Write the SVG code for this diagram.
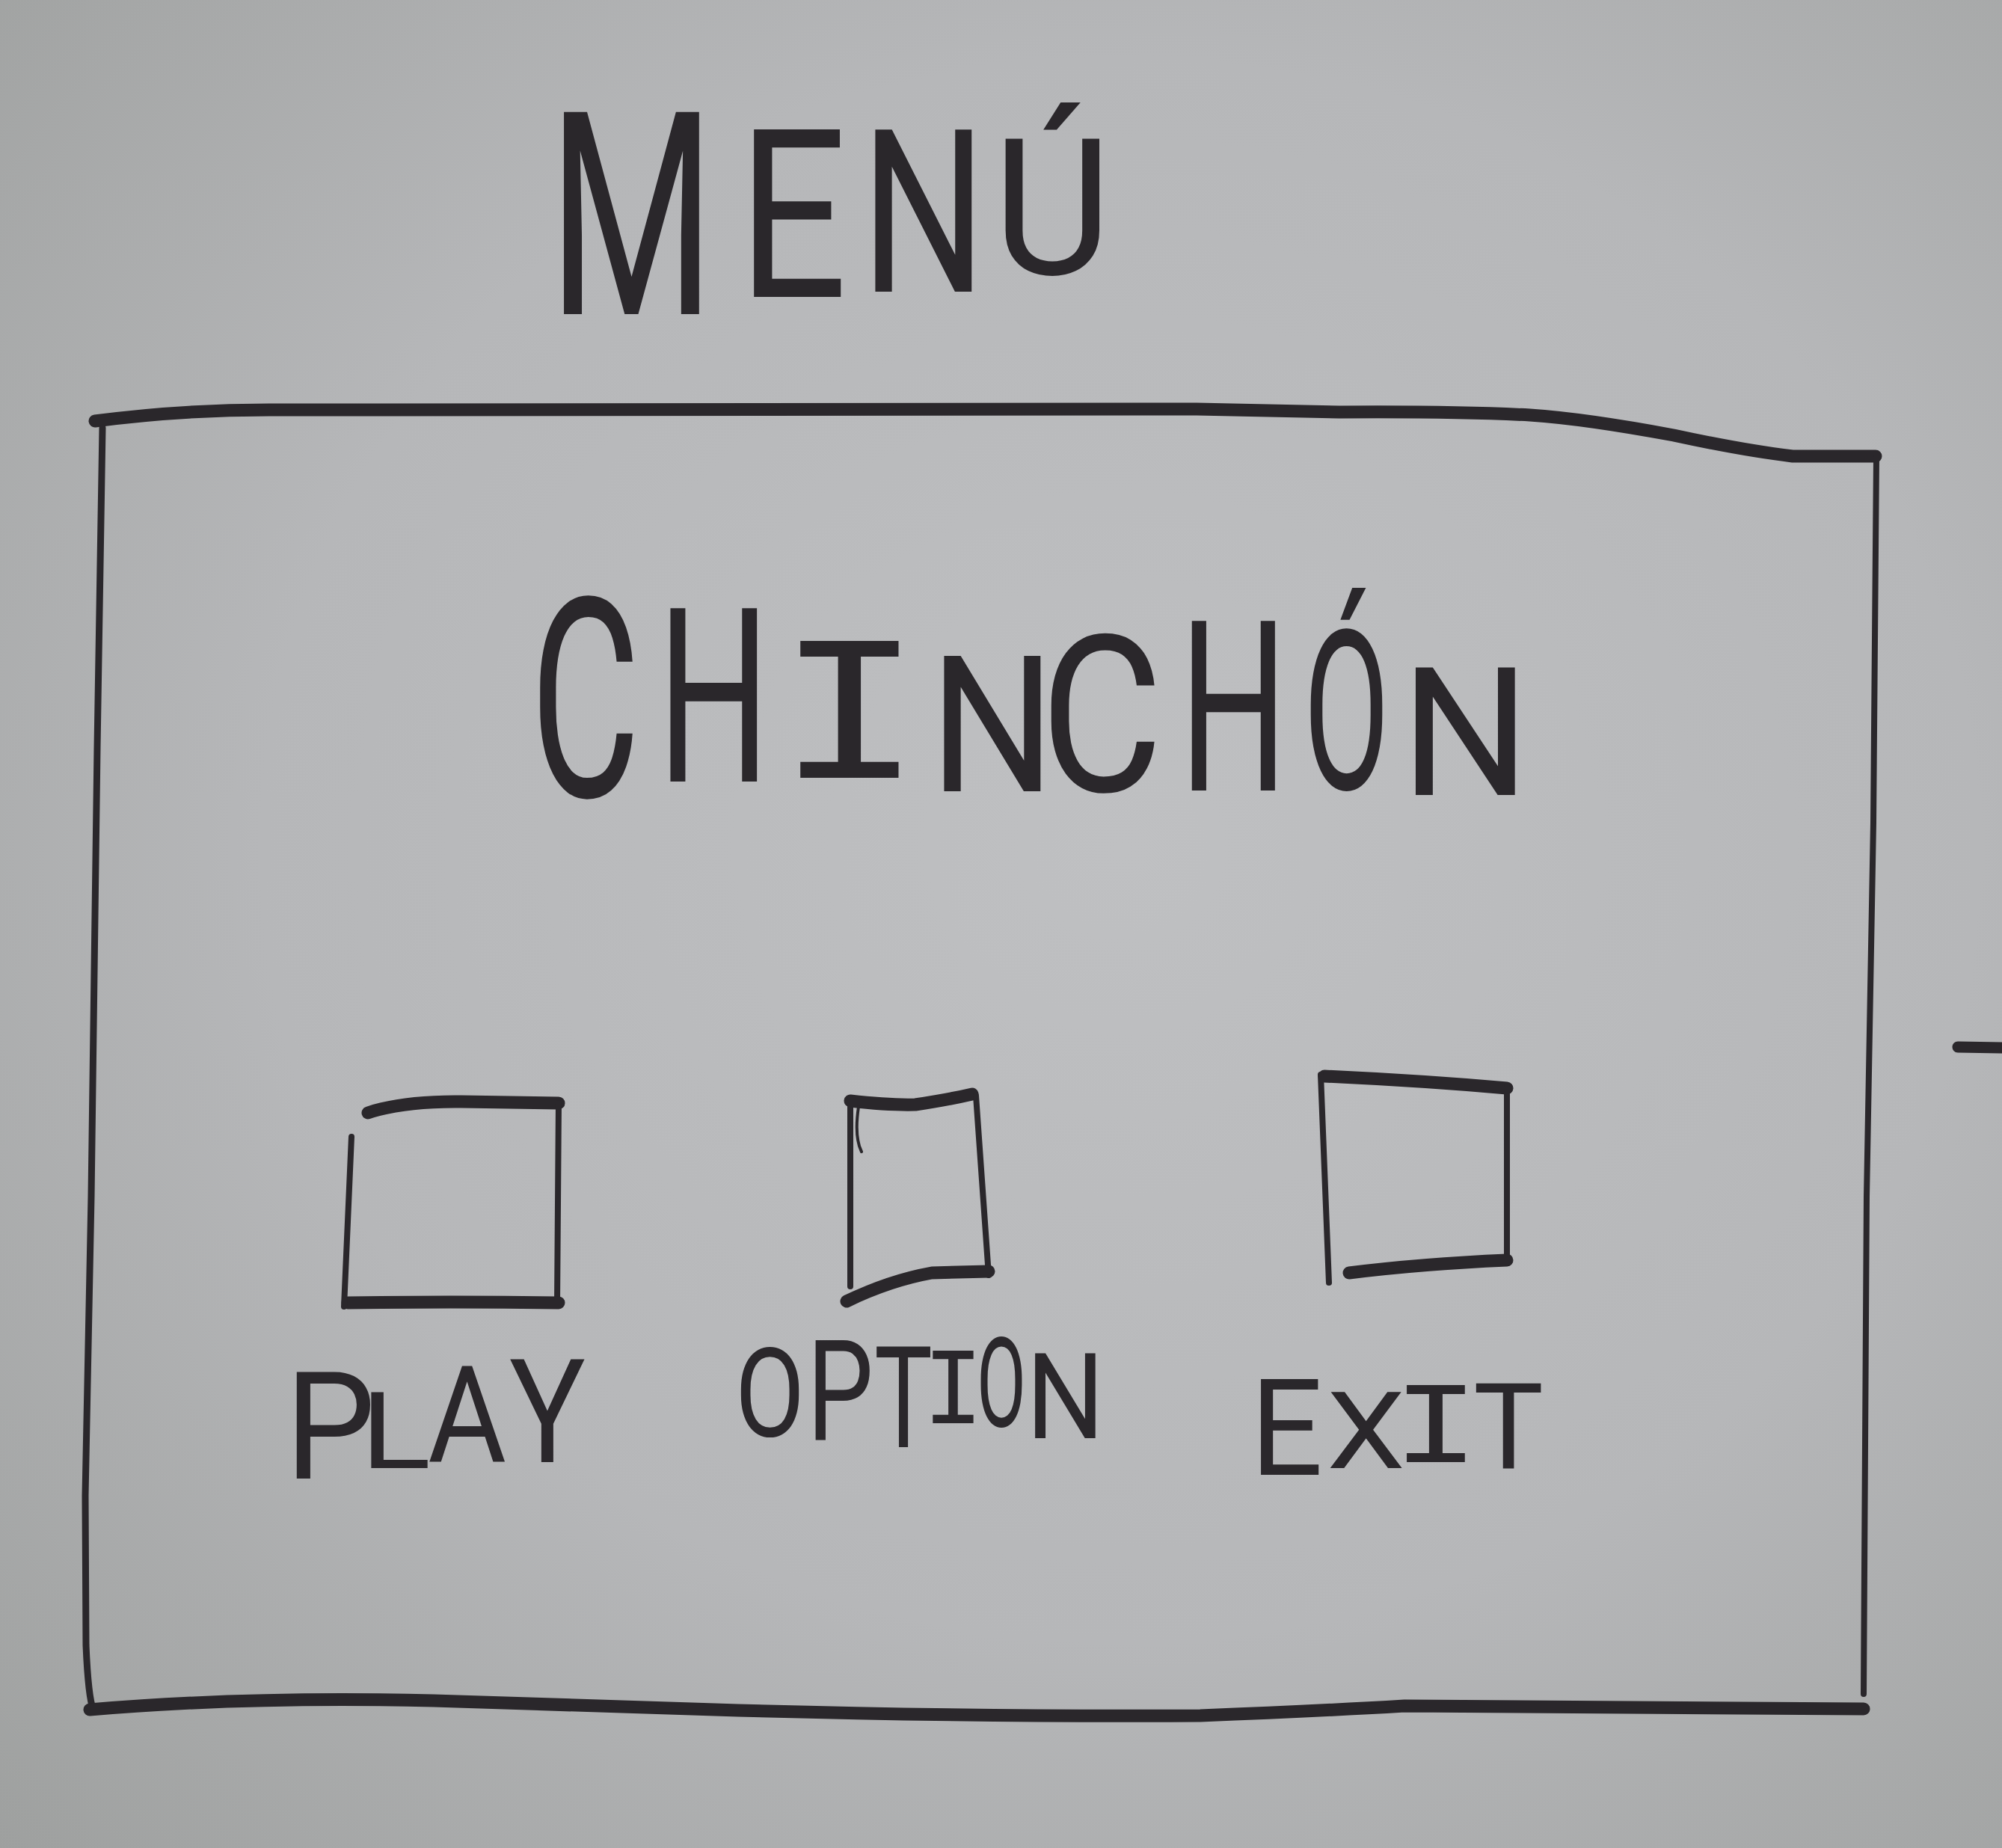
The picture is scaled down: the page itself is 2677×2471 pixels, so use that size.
<svg xmlns="http://www.w3.org/2000/svg" width="2677" height="2471" viewBox="0 0 2677 2471">
  <defs>
    <radialGradient id="paper" cx="0.56" cy="0.46" r="0.78">
      <stop offset="0" stop-color="#bfc0c2"/>
      <stop offset="0.55" stop-color="#b6b7b9"/>
      <stop offset="1" stop-color="#9ea09f"/>
    </radialGradient>
  </defs>
  <style>
    .ink { fill: none; stroke: #2a272b; stroke-linecap: round; stroke-linejoin: round; }
    .h { stroke-width: 17; }
    .v { stroke-width: 8; }
    .t { fill: #2a272b; font-family: Roboto, "Liberation Sans", sans-serif; font-weight: 400; }
    .m { font-family: "Liberation Mono", "DejaVu Sans Mono", monospace; font-weight: normal; }
  </style>
  <rect x="0" y="0" width="2677" height="2471" fill="url(#paper)"/>

  <g id="title-menu">
    <text class="t"><tspan x="733" y="420" font-size="380" textLength="223" lengthAdjust="spacingAndGlyphs">M</tspan><tspan x="987" y="397" font-size="315" textLength="146" lengthAdjust="spacingAndGlyphs">E</tspan><tspan x="1151" y="390" font-size="305" textLength="168" lengthAdjust="spacingAndGlyphs">N</tspan><tspan x="1328" y="367" font-size="255" textLength="158" lengthAdjust="spacingAndGlyphs">Ú</tspan></text>
  </g>

  <g id="screen-frame">
    <path class="ink h" d="M127,563 Q240,548 360,548 L1600,547 L1791,551 Q1950,550 2046,555 Q2120,560 2238,582 Q2330,602 2397,610 L2508,610"/>
    <path class="ink v" d="M2509,612 L2505,1100 L2496,1600 L2492,2265"/>
    <path class="ink v" style="stroke-width:9" d="M137,572 L130,1000 L122,1600 L114,2000 L115,2200 Q118,2270 125,2287"/>
    <path class="ink h" d="M120,2286 Q330,2268 580,2274 Q760,2280 956,2286 Q1300,2296 1605,2294 Q1760,2288 1878,2281 L2492,2285"/>
  </g>

  <g id="title-chinchon">
    <text class="t"><tspan x="709" y="1065" font-size="373" textLength="147" lengthAdjust="spacingAndGlyphs">C</tspan><tspan x="879" y="1045" font-size="326" textLength="151" lengthAdjust="spacingAndGlyphs">H</tspan><tspan class="m" x="1038" y="1040" font-size="278" textLength="196" lengthAdjust="spacingAndGlyphs">I</tspan><tspan x="1243" y="1058" font-size="255" textLength="168" lengthAdjust="spacingAndGlyphs">N</tspan><tspan x="1391" y="1058" font-size="293" textLength="164" lengthAdjust="spacingAndGlyphs">C</tspan><tspan x="1577" y="1057" font-size="319" textLength="145" lengthAdjust="spacingAndGlyphs">H</tspan><tspan x="1743" y="1055" font-size="298" textLength="115" lengthAdjust="spacingAndGlyphs">Ó</tspan><tspan x="1873" y="1063" font-size="239" textLength="173" lengthAdjust="spacingAndGlyphs">N</tspan></text>
  </g>

  <g id="button-play">
    <path class="ink h" d="M492,1488 Q540,1472 617,1473 L747,1475"/>
    <path class="ink v" d="M747,1475 L745,1743"/>
    <path class="ink h" d="M465,1742 Q600,1740 747,1742"/>
    <path class="ink v" d="M470,1520 L460,1747"/>
    <text class="t"><tspan x="381" y="1977" font-size="200" textLength="121" lengthAdjust="spacingAndGlyphs">P</tspan><tspan x="482" y="1963" font-size="143" textLength="94" lengthAdjust="spacingAndGlyphs">L</tspan><tspan x="572" y="1955" font-size="180" textLength="105" lengthAdjust="spacingAndGlyphs">A</tspan><tspan x="681" y="1955" font-size="193" textLength="102" lengthAdjust="spacingAndGlyphs">Y</tspan></text>
  </g>

  <g id="button-option">
    <path class="ink h" d="M1137,1472 Q1190,1478 1224,1477 Q1270,1470 1300,1463"/>
    <path class="ink v" d="M1305,1465 L1322,1705"/>
    <path class="ink h" d="M1132,1740 Q1190,1712 1246,1702 L1322,1700"/>
    <path class="ink v" d="M1137,1470 L1137,1720"/>
    <path class="ink" style="stroke-width:4" d="M1148,1480 Q1142,1520 1152,1540"/>
    <text class="t"><tspan x="983" y="1920" font-size="165" textLength="93" lengthAdjust="spacingAndGlyphs">O</tspan><tspan x="1079" y="1925" font-size="187" textLength="89" lengthAdjust="spacingAndGlyphs">P</tspan><tspan x="1169" y="1935" font-size="190" textLength="78" lengthAdjust="spacingAndGlyphs">T</tspan><tspan class="m" x="1234" y="1903" font-size="146" textLength="81" lengthAdjust="spacingAndGlyphs">I</tspan><tspan x="1306" y="1907" font-size="167" textLength="66" lengthAdjust="spacingAndGlyphs">O</tspan><tspan x="1372" y="1923" font-size="159" textLength="105" lengthAdjust="spacingAndGlyphs">N</tspan></text>
  </g>

  <g id="button-exit">
    <path class="ink h" d="M1771,1439 Q1900,1445 2015,1455"/>
    <path class="ink v" d="M2015,1453 L2015,1687"/>
    <path class="ink h" d="M1804,1702 Q1900,1690 2015,1685"/>
    <path class="ink v" d="M1766,1437 L1777,1715"/>
    <text class="t"><tspan x="1672" y="1972" font-size="180" textLength="97" lengthAdjust="spacingAndGlyphs">E</tspan><tspan x="1774" y="1963" font-size="143" textLength="105" lengthAdjust="spacingAndGlyphs">X</tspan><tspan class="m" x="1862" y="1955" font-size="156" textLength="116" lengthAdjust="spacingAndGlyphs">I</tspan><tspan x="1970" y="1963" font-size="160" textLength="94" lengthAdjust="spacingAndGlyphs">T</tspan></text>
  </g>

  <g id="stray-mark">
    <path class="ink" style="stroke-width:15" d="M2618,1400 L2677,1401"/>
  </g>
</svg>
